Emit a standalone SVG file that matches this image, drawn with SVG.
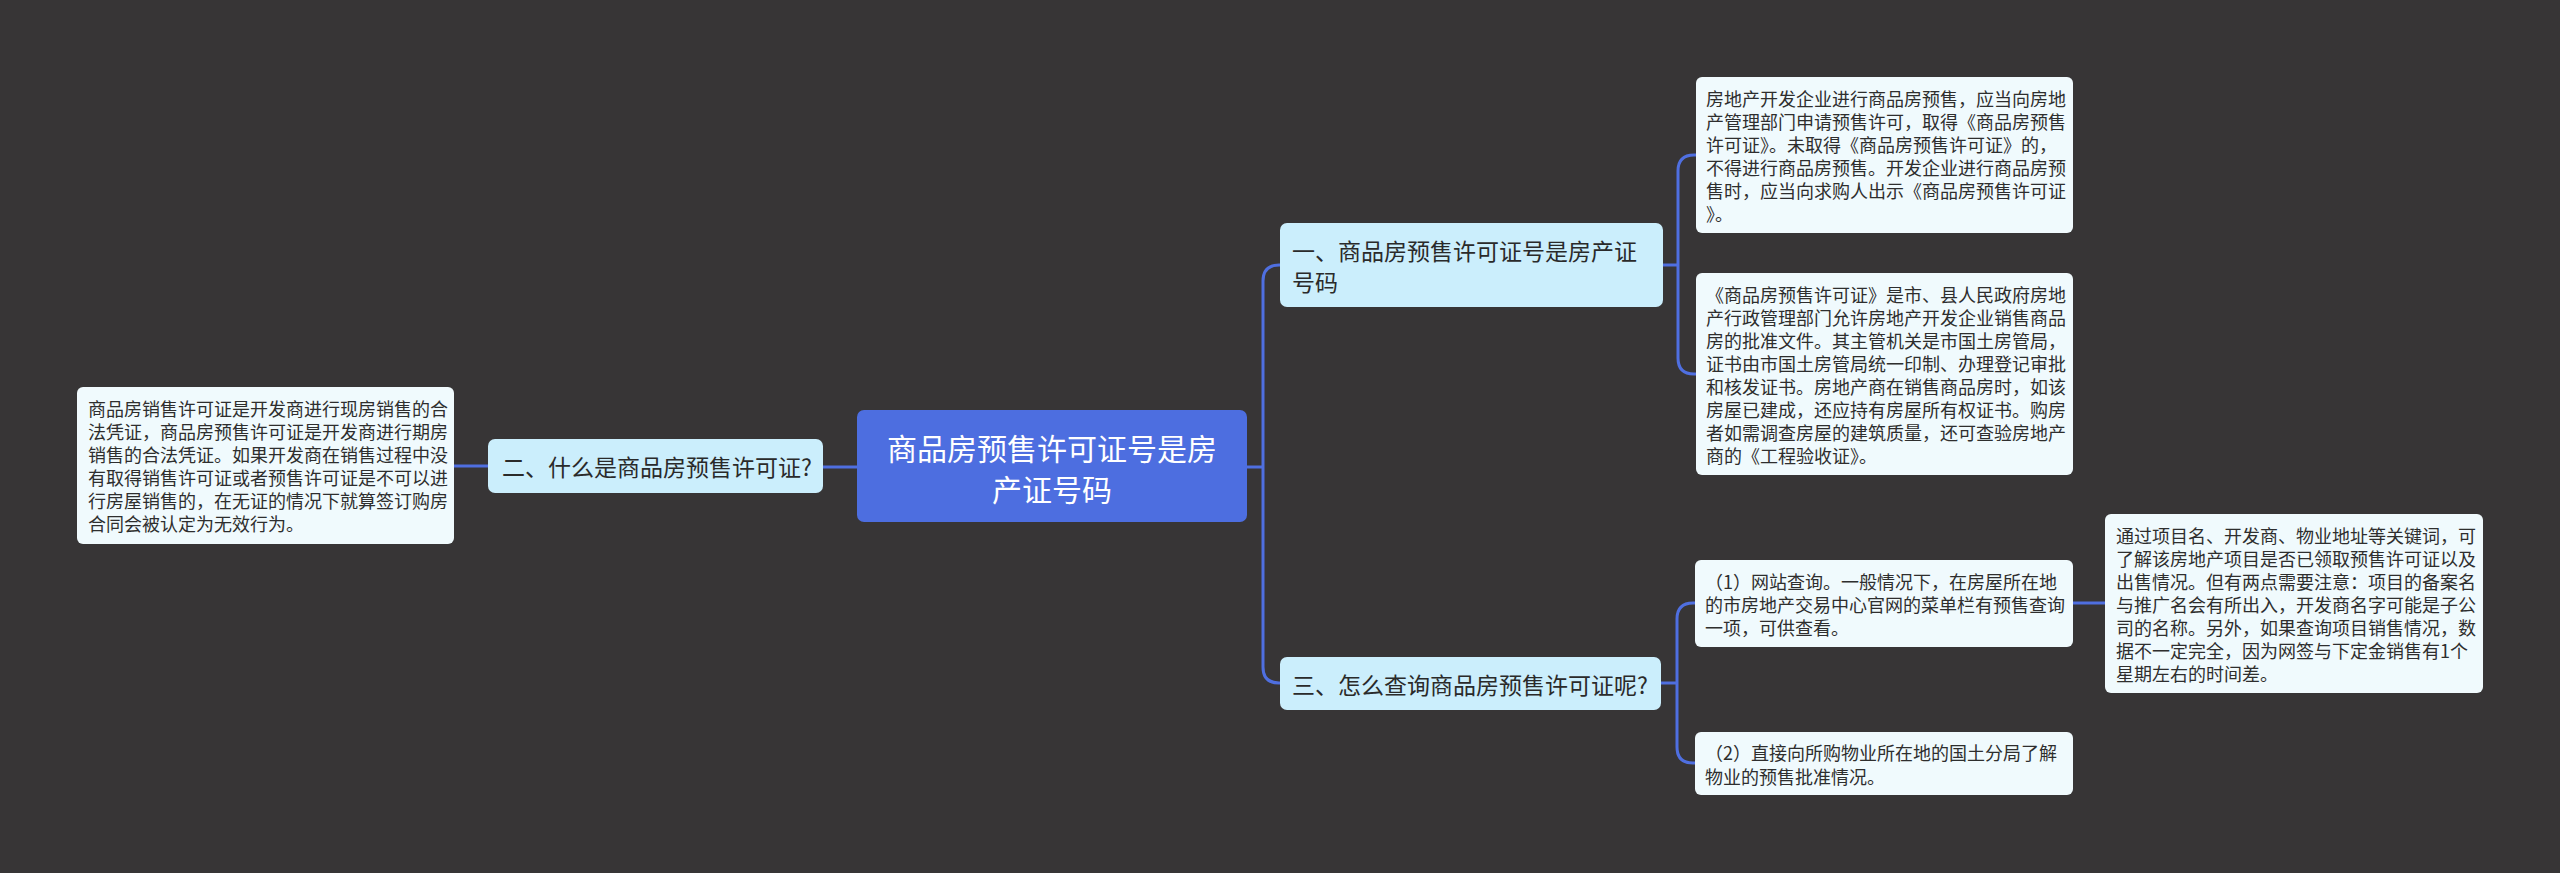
<svg xmlns="http://www.w3.org/2000/svg" width="2560" height="873" viewBox="0 0 2560 873">
<style>
.bg{fill:#373536}
.root rect{fill:#4d6ee0}
.root text{fill:#ffffff;font-size:30px;text-anchor:middle}
.l1 rect{fill:#cbeefc}
.l1 text{fill:#2a2a2a;font-size:23px}
.leaf rect{fill:#f0fafd}
.leaf text{fill:#2e2e2e;font-size:18px}
text{font-family:"Noto Sans CJK SC","Microsoft YaHei","Noto Sans",sans-serif;dominant-baseline:central}
.conn path{fill:none;stroke:#4f6fe0;stroke-width:3}
</style>
<rect class="bg" x="0" y="0" width="2560" height="873"/>
<g class="conn" id="connectors">
<path d="M857,467 H823"/>
<path d="M488,466 H454"/>
<path d="M1247,467 H1263"/>
<path d="M1263,467 V281 Q1263,265 1279,265 H1280"/>
<path d="M1263,467 V667 Q1263,683 1279,683 H1280"/>
<path d="M1663,265 H1678"/>
<path d="M1678,265 V171 Q1678,155 1694,155 H1696"/>
<path d="M1678,265 V358 Q1678,374 1694,374 H1696"/>
<path d="M1661,683 H1677"/>
<path d="M1677,683 V619 Q1677,603 1693,603 H1695"/>
<path d="M1677,683 V747 Q1677,763 1693,763 H1695"/>
<path d="M2073,603 H2105"/>
</g>
<g id="root" class="root">
<rect x="857" y="410" width="390" height="112" rx="7"/>
<text x="1052" y="447">商品房预售许可证号是房</text>
<text x="1052" y="488">产证号码</text>
</g>
<g id="n2" class="l1">
<rect x="488" y="439" width="335" height="54" rx="7"/>
<text x="502" y="466">二、什么是商品房预售许可证?</text>
</g>
<g id="n2a" class="leaf">
<rect x="77" y="387" width="377" height="157" rx="6"/>
<text x="88" y="408">商品房销售许可证是开发商进行现房销售的合</text>
<text x="88" y="431">法凭证，商品房预售许可证是开发商进行期房</text>
<text x="88" y="454">销售的合法凭证。如果开发商在销售过程中没</text>
<text x="88" y="477">有取得销售许可证或者预售许可证是不可以进</text>
<text x="88" y="500">行房屋销售的，在无证的情况下就算签订购房</text>
<text x="88" y="523">合同会被认定为无效行为。</text>
</g>
<g id="n1" class="l1">
<rect x="1280" y="223" width="383" height="84" rx="7"/>
<text x="1292" y="250">一、商品房预售许可证号是房产证</text>
<text x="1292" y="281">号码</text>
</g>
<g id="n1a" class="leaf">
<rect x="1696" y="77" width="377" height="156" rx="6"/>
<text x="1706" y="98">房地产开发企业进行商品房预售，应当向房地</text>
<text x="1706" y="121">产管理部门申请预售许可，取得《商品房预售</text>
<text x="1706" y="144">许可证》。未取得《商品房预售许可证》的，</text>
<text x="1706" y="167">不得进行商品房预售。开发企业进行商品房预</text>
<text x="1706" y="190">售时，应当向求购人出示《商品房预售许可证</text>
<text x="1706" y="213">》。</text>
</g>
<g id="n1b" class="leaf">
<rect x="1696" y="273" width="377" height="202" rx="6"/>
<text x="1706" y="293.5">《商品房预售许可证》是市、县人民政府房地</text>
<text x="1706" y="316.5">产行政管理部门允许房地产开发企业销售商品</text>
<text x="1706" y="339.5">房的批准文件。其主管机关是市国土房管局，</text>
<text x="1706" y="362.5">证书由市国土房管局统一印制、办理登记审批</text>
<text x="1706" y="385.5">和核发证书。房地产商在销售商品房时，如该</text>
<text x="1706" y="408.5">房屋已建成，还应持有房屋所有权证书。购房</text>
<text x="1706" y="431.5">者如需调查房屋的建筑质量，还可查验房地产</text>
<text x="1706" y="454.5">商的《工程验收证》。</text>
</g>
<g id="n3" class="l1">
<rect x="1280" y="657" width="381" height="53" rx="7"/>
<text x="1292" y="684">三、怎么查询商品房预售许可证呢?</text>
</g>
<g id="n3a" class="leaf">
<rect x="1695" y="560" width="378" height="87" rx="6"/>
<text x="1705" y="580.5">（1）网站查询。一般情况下，在房屋所在地</text>
<text x="1705" y="603.5">的市房地产交易中心官网的菜单栏有预售查询</text>
<text x="1705" y="626.5">一项，可供查看。</text>
</g>
<g id="n3b" class="leaf">
<rect x="1695" y="732" width="378" height="63" rx="6"/>
<text x="1705" y="752">（2）直接向所购物业所在地的国土分局了解</text>
<text x="1705" y="776">物业的预售批准情况。</text>
</g>
<g id="n3a1" class="leaf">
<rect x="2105" y="514" width="378" height="179" rx="6"/>
<text x="2116" y="534.5">通过项目名、开发商、物业地址等关键词，可</text>
<text x="2116" y="557.5">了解该房地产项目是否已领取预售许可证以及</text>
<text x="2116" y="580.5">出售情况。但有两点需要注意：项目的备案名</text>
<text x="2116" y="603.5">与推广名会有所出入，开发商名字可能是子公</text>
<text x="2116" y="626.5">司的名称。另外，如果查询项目销售情况，数</text>
<text x="2116" y="649.5">据不一定完全，因为网签与下定金销售有1个</text>
<text x="2116" y="672.5">星期左右的时间差。</text>
</g>
</svg>
